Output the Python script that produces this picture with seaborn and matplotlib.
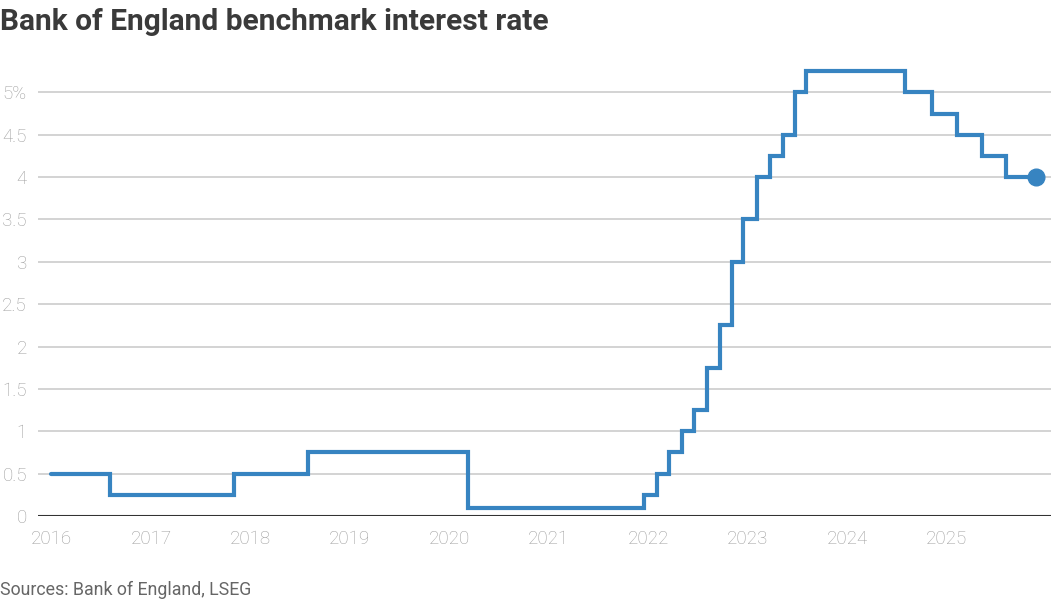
import matplotlib
matplotlib.use("Agg")
import matplotlib.pyplot as plt
import seaborn as sns
import pandas as pd

# Data: Bank of England rate decisions (date, rate %)
change_dates = ["2016-01-01", "2016-08-04", "2017-11-02", "2018-08-02", "2020-03-11",
                "2021-12-16", "2022-02-03", "2022-03-17", "2022-05-05",
                "2022-06-16", "2022-08-04", "2022-09-22", "2022-11-03", "2022-12-15",
                "2023-02-02", "2023-03-23", "2023-05-11", "2023-06-22", "2023-08-03",
                "2024-08-01", "2024-11-07", "2025-02-06", "2025-05-08", "2025-08-07",
                "2025-11-25"]
rates = [0.5, 0.25, 0.5, 0.75, 0.1,
         0.25, 0.5, 0.75, 1.0,
         1.25, 1.75, 2.25, 3.0, 3.5,
         4.0, 4.25, 4.5, 5.0, 5.25,
         5.0, 4.75, 4.5, 4.25, 4.0,
         4.0]
y_ticks = [0, 0.5, 1, 1.5, 2, 2.5, 3, 3.5, 4, 4.5, 5]
y_tick_labels = ["0", "0.5", "1", "1.5", "2", "2.5", "3", "3.5", "4", "4.5", "5%"]
x_tick_years = list(range(2016, 2026))

df = pd.DataFrame({"date": pd.to_datetime(change_dates), "rate": rates})

sns.set_theme(style="white")
plt.rcParams["font.family"] = ["Roboto", "DejaVu Sans"]

fig = plt.figure(figsize=(10.51, 6.0), dpi=100)
ax = fig.add_axes([38 / 1051, 1 - 516 / 600, 1 - 38 / 1051, (516 - 50) / 600])

line_color = "#3784c1"
sns.lineplot(data=df, x="date", y="rate", ax=ax, color=line_color, linewidth=3.0,
             drawstyle="steps-post", solid_joinstyle="miter")
last = df.iloc[[-1]]
ax.plot(last["date"], last["rate"], "o", color=line_color, markersize=12, clip_on=False, zorder=5)

ax.set_ylim(0, 5.5)
ax.set_xlim(pd.Timestamp("2015-11-13"), pd.Timestamp("2026-01-18"))
ax.set_yticks(y_ticks)
ax.set_yticklabels(y_tick_labels)
ax.set_xticks([pd.Timestamp(f"{y}-01-01") for y in x_tick_years])
ax.set_xticklabels([str(y) for y in x_tick_years])

for y in y_ticks[1:]:
    ax.axhline(y, color="#cccccc", linewidth=1.2, zorder=0)
ax.axhline(0, color="#333333", linewidth=1.5, zorder=1)

for s in ax.spines.values():
    s.set_visible(False)
ax.grid(False)
ax.tick_params(axis="y", length=0, pad=8, labelsize=13.5, labelcolor="#9e9e9e")
ax.tick_params(axis="x", length=0, pad=10, labelsize=13.5, labelcolor="#9e9e9e")
for lab in ax.get_yticklabels() + ax.get_xticklabels():
    lab.set_fontweight("light")
ax.set_xlabel("")
ax.set_ylabel("")

fig.text(0.0, 1 - 22 / 600, "Bank of England benchmark interest rate", fontsize=21.5,
         fontweight="bold", color="#3a3a3a", ha="left", va="center")
fig.text(0.0, 1 - 590 / 600, "Sources: Bank of England, LSEG", fontsize=12.8,
         color="#666666", ha="left", va="center")

fig.savefig("out.png", dpi=100)
